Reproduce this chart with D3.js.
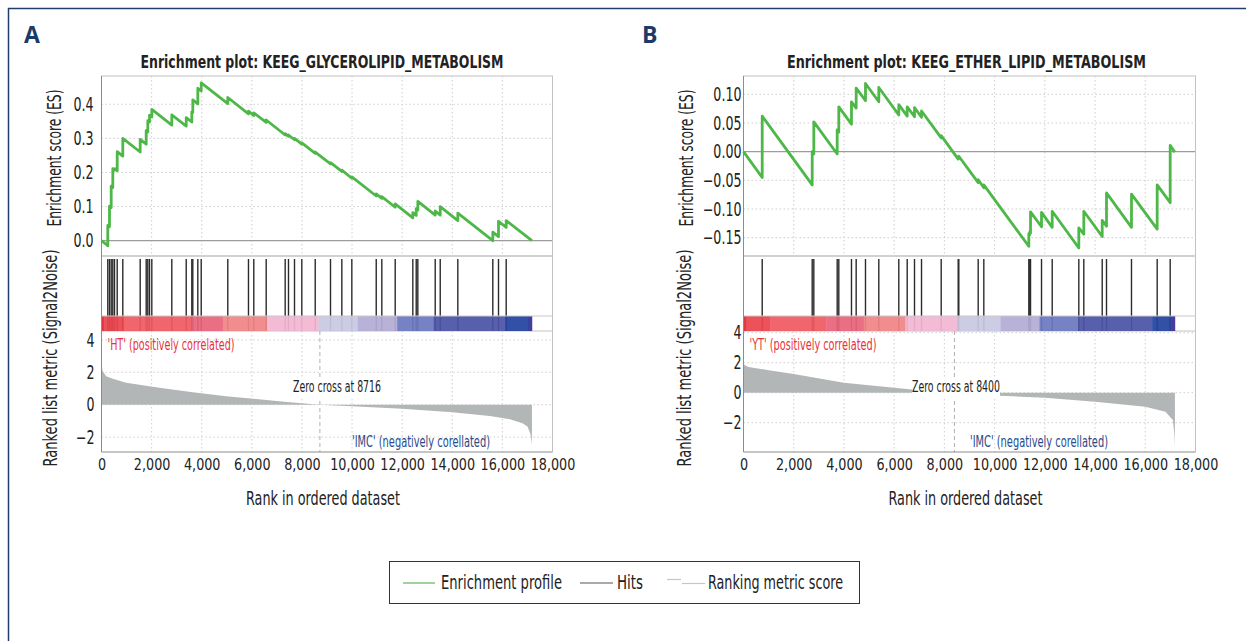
<!DOCTYPE html>
<html>
<head>
<meta charset="utf-8">
<script src="https://cdn.jsdelivr.net/npm/d3@7"></script>
<style>
body { margin: 0; background: #fff; }
svg { display: block; }
</style>
</head>
<body>
<script>
// ---- data ----
var nGenes = 17180;
var xTickVals = [0, 2000, 4000, 6000, 8000, 10000, 12000, 14000, 16000, 18000];

// panel A : KEEG_GLYCEROLIPID_METABOLISM
var hitsA = [251,319,387,451,519,627,850,1544,1784,1848,1916,2008,2806,3381,3604,3644,3844,3980,
  5040,5866,6078,6573,7331,7463,7703,7995,8530,9140,9592,9991,10965,11188,11722,12425,12561,12625,
  13319,13519,14221,15618,15845,16152];
var esBeforeA = [-0.015,0.041,0.097,0.156,0.207,0.205,0.248,0.260,0.283,0.319,0.348,0.363,0.339,0.336,
  0.348,0.376,0.401,0.439,0.402,0.372,0.367,0.347,0.310,0.306,0.296,0.283,0.256,0.225,0.203,0.183,
  0.131,0.124,0.098,0.067,0.074,0.090,0.075,0.075,0.059,0.000,0.012,0.039];
var esAfterA = [0.045,0.101,0.160,0.211,0.211,0.261,0.300,0.297,0.323,0.352,0.368,0.385,0.369,0.361,
  0.378,0.413,0.447,0.463,0.420,0.380,0.375,0.354,0.314,0.310,0.300,0.287,0.260,0.229,0.207,0.187,
  0.137,0.129,0.108,0.082,0.094,0.115,0.087,0.100,0.081,0.025,0.057,0.059];
var esEndA = 0.0;
var esTicksA = [0, 0.1, 0.2, 0.3, 0.4];
var metricRankA = [0,40,187,450,985,2314,3645,4975,6170,7400,8716,10000,12000,14000,15500,16300,16800,17000,17120,17160,17180];
var metricValA = [2.69,2.1,1.76,1.6,1.35,1.04,0.77,0.52,0.35,0.17,0,-0.1,-0.25,-0.47,-0.7,-0.9,-1.15,-1.35,-1.8,-2.2,-2.5];
var metricTicksA = [-2, 0, 2, 4];
var bandCutsA = [0,90,890,3580,4840,6610,8660,10230,11800,13260,16110,17050,17180];
var zeroCrossA = 8716;

// panel B : KEEG_ETHER_LIPID_METABOLISM
var hitsB = [745,2736,2800,3731,3795,4300,4487,4858,5388,6184,6519,6810,7089,7873,8550,8574,9346,9570,
  11362,11402,11430,11868,12294,13353,13552,14285,14456,15451,16474,16992];
var esBeforeB = [-0.045,-0.058,-0.004,-0.004,0.034,0.048,0.076,0.089,0.087,0.064,0.062,0.061,0.060,0.024,
  -0.013,-0.011,-0.054,-0.063,-0.165,-0.145,-0.142,-0.131,-0.132,-0.168,-0.144,-0.148,-0.130,-0.132,-0.135,-0.089];
var esAfterB = [0.062,0.000,0.052,0.038,0.078,0.087,0.111,0.119,0.112,0.082,0.078,0.077,0.071,0.028,
  -0.010,-0.008,-0.049,-0.058,-0.143,-0.140,-0.105,-0.106,-0.104,-0.133,-0.104,-0.120,-0.072,-0.074,-0.058,0.011];
var esEndB = -0.001;
var esTicksB = [-0.15, -0.10, -0.05, 0, 0.05, 0.10];
var metricRankB = [0,40,200,1000,2000,4000,6000,6700,8400,10200,12000,14000,16000,16800,17100,17160,17180];
var metricValB = [2.07,1.85,1.72,1.5,1.25,0.67,0.33,0.22,0,-0.2,-0.33,-0.6,-0.93,-1.27,-1.82,-2.8,-3.6];
var metricTicksB = [-2, 0, 2, 4];
var bandCutsB = [0,100,1075,3293,4790,6450,8510,10234,11787,13328,16274,17050,17180];
var zeroCrossB = 8400;

var legendItems = ["Enrichment profile", "Hits", "Ranking metric score"];

// ---- styles ----
var FONT = "'Liberation Sans Narrow','DejaVu Sans Condensed','Arial Narrow',sans-serif";
var bandColors = ['#df2a33','#ec454d','#f05a61','#e9647b','#f08387','#f3b6d2','#c8c8e3','#b3acd6',
  '#6b78bf','#4b53a6','#2343a0','#3a2c92'];
var green = '#4db848';
var W = 1246, H = 641;
var esTop = 76, esBottom = 256, barTop = 316, barBottom = 331, mTop = 331, mBottom = 452;

var svg = d3.select("body").append("svg").attr("width", W).attr("height", H)
  .style("font-family", FONT);
svg.append("rect").attr("width", W).attr("height", H).attr("fill", "#fff");
// outer frame
svg.append("path").attr("d", "M8.5," + H + " V8.5 H" + W)
  .attr("fill", "none").attr("stroke", "#1f3d6e").attr("stroke-width", 1.5);

// the figure uses a condensed face, squeeze the fallback glyphs to match
function squeeze(sel, f)
{
  sel.each(function()
  {
    var w = this.getComputedTextLength();
    d3.select(this).attr("textLength", w * f).attr("lengthAdjust", "spacingAndGlyphs");
  });
}

function drawPanel(p)
{
  var g = svg.append("g");
  var x = d3.scaleLinear().domain([0, 18000]).range([p.left, p.right]);
  var yEs = d3.scaleLinear().domain(p.esDomain).range([esBottom, esTop]);
  var yM = d3.scaleLinear().domain(p.mDomain).range([mBottom, mTop]);
  var inner = xTickVals.slice(1, -1);

  g.append("text").attr("x", p.letterX).attr("y", 43).text(p.letter)
    .attr("font-family", "'Open Sans','DejaVu Sans',sans-serif")
    .attr("font-weight", "bold").attr("font-size", 23).attr("fill", "#1b3a6a");

  var tt = g.append("text").attr("x", p.titleX).attr("y", 68).attr("text-anchor", "middle")
    .attr("font-weight", "bold").attr("font-size", 17).attr("fill", "#222")
    .text(p.title);
  squeeze(tt, p.titleW / tt.node().getComputedTextLength());

  // ES grid
  g.selectAll(".vg").data(inner).enter().append("line")
    .attr("x1", function(d){ return x(d); }).attr("x2", function(d){ return x(d); })
    .attr("y1", esTop).attr("y2", esBottom)
    .attr("stroke", "#cfcfcf").attr("stroke-dasharray", "1.5,2.5");
  g.selectAll(".hg").data(p.esTicks.filter(function(d){ return d != 0; })).enter().append("line")
    .attr("x1", p.left).attr("x2", p.right)
    .attr("y1", function(d){ return yEs(d); }).attr("y2", function(d){ return yEs(d); })
    .attr("stroke", "#cfcfcf").attr("stroke-dasharray", "1.5,2.5");
  g.append("line").attr("x1", p.left).attr("x2", p.right)
    .attr("y1", yEs(0)).attr("y2", yEs(0)).attr("stroke", "#9c9c9c").attr("stroke-width", 1.2);
  g.append("rect").attr("x", p.left).attr("y", esTop)
    .attr("width", p.right - p.left).attr("height", esBottom - esTop)
    .attr("fill", "none").attr("stroke", "#c2c2c2");

  // running enrichment score
  var pts = [[0, 0]];
  for (var i = 0; i < p.hits.length; i++)
  {
    pts.push([p.hits[i], p.esBefore[i]]);
    pts.push([p.hits[i], p.esAfter[i]]);
  }
  pts.push([nGenes, p.esEnd]);
  g.append("path").datum(pts)
    .attr("d", d3.line().x(function(d){ return x(d[0]); }).y(function(d){ return yEs(d[1]); }))
    .attr("fill", "none").attr("stroke", green).attr("stroke-width", 2.8)
    .attr("stroke-linejoin", "round");

  // hits + colour bar
  g.append("rect").attr("x", p.left).attr("y", esBottom)
    .attr("width", p.right - p.left).attr("height", barBottom - esBottom)
    .attr("fill", "none").attr("stroke", "#c2c2c2");
  g.selectAll(".hit").data(p.hits).enter().append("line")
    .attr("x1", function(d){ return x(d); }).attr("x2", function(d){ return x(d); })
    .attr("y1", esBottom + 3).attr("y2", barBottom)
    .attr("stroke", "#2b2b2b").attr("stroke-width", 1.4);
  g.selectAll(".band").data(d3.range(p.bands.length - 1)).enter().append("rect")
    .attr("x", function(i){ return x(p.bands[i]); })
    .attr("width", function(i){ return x(p.bands[i + 1]) - x(p.bands[i]) + 0.3; })
    .attr("y", barTop).attr("height", barBottom - barTop)
    .attr("fill", function(i){ return bandColors[i]; }).attr("fill-opacity", 0.93);
  g.append("line").attr("x1", p.left).attr("x2", p.right).attr("y1", barTop).attr("y2", barTop)
    .attr("stroke", "#c8c8c8");

  // ranked list metric
  g.selectAll(".mvg").data(inner).enter().append("line")
    .attr("x1", function(d){ return x(d); }).attr("x2", function(d){ return x(d); })
    .attr("y1", mTop).attr("y2", mBottom)
    .attr("stroke", "#cfcfcf").attr("stroke-dasharray", "1.5,2.5");
  g.selectAll(".mhg").data(p.mTicks).enter().append("line")
    .attr("x1", p.left).attr("x2", p.right)
    .attr("y1", function(d){ return yM(d); }).attr("y2", function(d){ return yM(d); })
    .attr("stroke", "#cfcfcf").attr("stroke-dasharray", "1.5,2.5");
  var mpts = p.mRank.map(function(r, i){ return [r, p.mVal[i]]; });
  g.append("path").datum(mpts)
    .attr("d", d3.area().x(function(d){ return x(d[0]); })
      .y0(yM(0)).y1(function(d){ return yM(d[1]); }))
    .attr("fill", "#b3b6b6");
  g.append("line").attr("x1", x(p.zeroCross)).attr("x2", x(p.zeroCross))
    .attr("y1", mTop).attr("y2", mBottom)
    .attr("stroke", "#b0b0b0").attr("stroke-dasharray", "4,3");
  g.append("line").attr("x1", p.right).attr("x2", p.right).attr("y1", mTop).attr("y2", mBottom)
    .attr("stroke", "#c2c2c2");

  // zero cross label on white
  var zl = g.append("text").attr("x", p.zeroLabelX).attr("y", 387).attr("text-anchor", "middle")
    .attr("dy", "0.35em").attr("font-size", 15).attr("fill", "#222")
    .text("Zero cross at " + p.zeroCross);
  squeeze(zl, 88 / zl.node().getComputedTextLength());
  var bb = zl.node().getBBox();
  g.insert("rect", function(){ return zl.node(); })
    .attr("x", bb.x).attr("y", bb.y + 1).attr("width", bb.width).attr("height", bb.height + 1)
    .attr("fill", "#fff");

  var pl = g.append("text").attr("x", p.left + 6).attr("y", 349.5).attr("font-size", 15.5)
    .attr("fill", "#e8313a").text(p.posLabel);
  squeeze(pl, 127 / pl.node().getComputedTextLength());
  var nl = g.append("text").attr("x", p.negLabelX).attr("y", 446.5).attr("font-size", 15.5)
    .attr("fill", "#2a4a8a").text("'IMC' (negatively corellated)");
  squeeze(nl, 138 / nl.node().getComputedTextLength());

  // axes lines
  g.append("line").attr("x1", p.left).attr("x2", p.left).attr("y1", esTop).attr("y2", mBottom)
    .attr("stroke", "#8c8c8c");
  g.append("line").attr("x1", p.left).attr("x2", p.right).attr("y1", mBottom).attr("y2", mBottom)
    .attr("stroke", "#8c8c8c");

  // tick labels
  var ax = g.append("g").attr("transform", "translate(0," + mBottom + ")")
    .call(d3.axisBottom(x).tickValues(xTickVals).tickFormat(d3.format(",")).tickSize(0).tickPadding(6));
  var ay = g.append("g").attr("transform", "translate(" + p.left + ",0)")
    .call(d3.axisLeft(yEs).tickValues(p.esTicks).tickFormat(d3.format(p.esFmt)).tickSize(0).tickPadding(p.tickPad));
  var am = g.append("g").attr("transform", "translate(" + p.left + ",0)")
    .call(d3.axisLeft(yM).tickValues(p.mTicks).tickFormat(d3.format("d")).tickSize(0).tickPadding(p.mTickPad));
  ax.select(".domain").remove();
  ax.selectAll("text").attr("font-family", FONT).attr("font-size", 16.5).attr("fill", "#222");
  squeeze(ax.selectAll("text"), 0.86);
  [ay, am].forEach(function(a)
  {
    a.select(".domain").remove();
    a.selectAll("text").attr("font-family", FONT).attr("font-size", 19).attr("fill", "#222");
    squeeze(a.selectAll("text"), 0.74);
  });

  // axis titles
  var t1 = g.append("text").attr("transform", "translate(" + p.esLabelX + ",158) rotate(-90)")
    .attr("text-anchor", "middle").attr("dy", "0.35em").attr("font-size", 19.5).attr("fill", "#222")
    .text("Enrichment score (ES)");
  squeeze(t1, 137 / t1.node().getComputedTextLength());
  var t2 = g.append("text").attr("transform", "translate(" + p.mLabelX + ",358) rotate(-90)")
    .attr("text-anchor", "middle").attr("dy", "0.35em").attr("font-size", 19.5).attr("fill", "#222")
    .text("Ranked list metric (Signal2Noise)");
  squeeze(t2, 217 / t2.node().getComputedTextLength());
  var t3 = g.append("text").attr("x", (p.left + p.right) / 2 - 4).attr("y", 505).attr("text-anchor", "middle")
    .attr("font-size", 20).attr("fill", "#222")
    .text("Rank in ordered dataset");
  squeeze(t3, 154 / t3.node().getComputedTextLength());
}

drawPanel({
  letter: "A", letterX: 24, title: "Enrichment plot: KEEG_GLYCEROLIPID_METABOLISM", titleX: 322, titleW: 363,
  left: 101.5, right: 552.5, esDomain: [-0.045, 0.483], mDomain: [-2.92, 4.55],
  hits: hitsA, esBefore: esBeforeA, esAfter: esAfterA, esEnd: esEndA, esTicks: esTicksA, esFmt: ".1f",
  mRank: metricRankA, mVal: metricValA, mTicks: metricTicksA, bands: bandCutsA,
  zeroCross: zeroCrossA, zeroLabelX: 337, posLabel: "'HT' (positively correlated)", negLabelX: 352,
  tickPad: 8, mTickPad: 7, esLabelX: 54, mLabelX: 50
});
drawPanel({
  letter: "B", letterX: 642, title: "Enrichment plot: KEEG_ETHER_LIPID_METABOLISM", titleX: 966.5, titleW: 359,
  left: 743.5, right: 1195.5, esDomain: [-0.182, 0.132], mDomain: [-3.95, 4.11],
  hits: hitsB, esBefore: esBeforeB, esAfter: esAfterB, esEnd: esEndB, esTicks: esTicksB, esFmt: ".2f",
  mRank: metricRankB, mVal: metricValB, mTicks: metricTicksB, bands: bandCutsB,
  zeroCross: zeroCrossB, zeroLabelX: 956, posLabel: "'YT' (positively correlated)", negLabelX: 970,
  tickPad: 2, mTickPad: 2, esLabelX: 686, mLabelX: 684
});

// legend
var lg = svg.append("g");
lg.append("rect").attr("x", 389.5).attr("y", 561.5).attr("width", 470).attr("height", 42)
  .attr("fill", "#fff").attr("stroke", "#333");
var legX = [403, 580, 667];
var legTextX = [441, 617, 708];
var legTextW = [121, 26, 135];
lg.append("line").attr("x1", legX[0]).attr("x2", legX[0] + 32).attr("y1", 583).attr("y2", 583)
  .attr("stroke", "#62b45c").attr("stroke-width", 1.2);
lg.append("line").attr("x1", legX[1]).attr("x2", legX[1] + 33).attr("y1", 583).attr("y2", 583)
  .attr("stroke", "#555").attr("stroke-width", 1.2);
lg.append("line").attr("x1", legX[2]).attr("x2", legX[2] + 14).attr("y1", 579.5).attr("y2", 579.5)
  .attr("stroke", "#c6c6c6").attr("stroke-width", 1.2);
lg.append("line").attr("x1", legX[2] + 15).attr("x2", legX[2] + 38).attr("y1", 583.5).attr("y2", 583.5)
  .attr("stroke", "#c6c6c6").attr("stroke-width", 1.2);
lg.selectAll(".lt").data(legendItems).enter().append("text")
  .attr("x", function(d, i){ return legTextX[i]; }).attr("y", 589)
  .attr("font-size", 19.5).attr("fill", "#222")
  .text(function(d){ return d; })
  .each(function(d, i){ squeeze(d3.select(this), legTextW[i] / this.getComputedTextLength()); });
</script>
</body>
</html>
